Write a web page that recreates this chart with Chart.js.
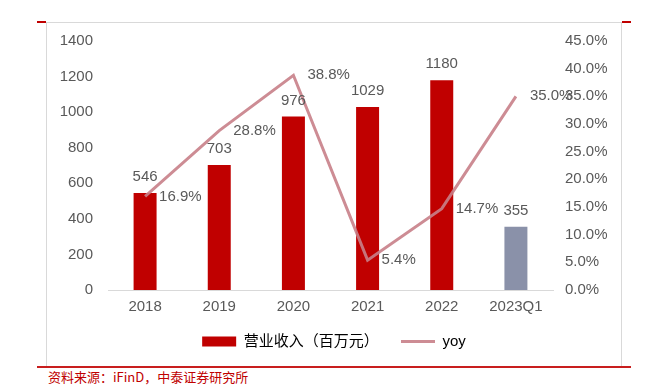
<!DOCTYPE html>
<html>
<head>
<meta charset="utf-8">
<script src="https://cdn.jsdelivr.net/npm/chart.js@4.4.0/dist/chart.umd.min.js"></script>
<style>
  body { margin: 0; background: #fff; }
  #wrap { position: relative; width: 645px; height: 387px; overflow: hidden; }
  .frame {
    position: absolute; left: 46px; top: 22px; width: 576px; height: 345px;
    box-sizing: border-box; border: 1px solid #D9D9D9; border-bottom: none;
  }
  .redtick { position: absolute; top: 21px; width: 9px; height: 2px; background: #C00000; }
  .redline { position: absolute; left: 37px; top: 366px; width: 594px; height: 2px; background: #C81E1E; }
  .source {
    position: absolute; left: 48px; top: 369px; font-size: 13px; line-height: 15px;
    color: #C00000; font-family: "Noto Sans CJK SC", sans-serif; font-weight: 400;
  }
  #chart { position: absolute; left: 47px; top: 23px; }
</style>
</head>
<body>
<div id="wrap">
  <div class="frame"></div>
  <div class="redtick" style="left:37px"></div>
  <div class="redtick" style="left:622px"></div>
  <canvas id="chart" width="574" height="343"></canvas>
  <div class="redline"></div>
  <div class="source">资料来源：iFinD，中泰证券研究所</div>
</div>
<script>
// data
const years = ['2018', '2019', '2020', '2021', '2022', '2023Q1'];
const revenue = [546, 703, 976, 1029, 1180, 355];   // 营业收入（百万元）
const yoy = [16.9, 28.8, 38.8, 5.4, 14.7, 35.0];    // %
const barColors = ['#C00000', '#C00000', '#C00000', '#C00000', '#C00000', '#8A91A9'];

const fontFamily = '"Liberation Sans", Arial, "Noto Sans CJK SC", sans-serif';
const textColor = '#595959';
const lineColor = 'rgba(200, 128, 136, 0.9)';

// value labels above the bars and to the right of the line points
const valueLabels = {
  id: 'valueLabels',
  afterDatasetsDraw(chart) {
    const ctx = chart.ctx;
    ctx.save();
    ctx.font = '15px ' + fontFamily;
    ctx.fillStyle = textColor;
    ctx.textBaseline = 'middle';
    chart.getDatasetMeta(0).data.forEach((bar, i) => {
      ctx.textAlign = 'center';
      ctx.fillText(String(revenue[i]), bar.x, bar.y - 16);
    });
    chart.getDatasetMeta(1).data.forEach((pt, i) => {
      ctx.textAlign = 'left';
      ctx.fillText(yoy[i].toFixed(1) + '%', pt.x + 14, pt.y);
    });
    ctx.restore();
  }
};

// fixed axis widths, and no extra top/bottom room for tick labels
const fitWidth = (w) => (s) => { s.width = w; s.paddingTop = 0; s.paddingBottom = 0; };

new Chart(document.getElementById('chart'), {
  type: 'bar',
  data: {
    labels: years,
    datasets: [
      {
        label: '营业收入（百万元）',
        data: revenue,
        backgroundColor: barColors,
        barPercentage: 0.31,
        categoryPercentage: 1,
        yAxisID: 'y',
        order: 2
      },
      {
        type: 'line',
        label: 'yoy',
        data: yoy,
        borderColor: lineColor,
        backgroundColor: lineColor,
        borderWidth: 3,
        pointRadius: 0,
        tension: 0,
        yAxisID: 'y1',
        order: 1
      }
    ]
  },
  options: {
    responsive: false,
    animation: false,
    devicePixelRatio: 1,
    layout: { padding: { top: 18, bottom: 7, left: 0, right: 0 } },
    plugins: {
      tooltip: { enabled: false },
      legend: {
        position: 'bottom',
        labels: {
          usePointStyle: true,
          pointStyleWidth: 34,
          boxHeight: 10,
          padding: 14,
          color: textColor,
          font: { family: fontFamily, size: 15 },
          generateLabels: () => [
            { text: '营业收入（百万元）  ', fillStyle: '#C00000', strokeStyle: '#C00000', lineWidth: 0, pointStyle: 'rect', datasetIndex: 0 },
            { text: 'yoy', fillStyle: lineColor, strokeStyle: lineColor, lineWidth: 3, pointStyle: 'line', datasetIndex: 1 }
          ]
        }
      }
    },
    scales: {
      x: {
        grid: { display: false, drawTicks: false },
        border: { display: true, color: '#D9D9D9', width: 1 },
        ticks: { color: textColor, padding: 8, font: { family: fontFamily, size: 15 } },
        afterFit: (s) => { s.height = 30; }
      },
      y: {
        position: 'left',
        min: 0, max: 1400,
        grid: { display: false, drawTicks: false },
        border: { display: false },
        ticks: {
          stepSize: 200, color: textColor, padding: 15, font: { family: fontFamily, size: 15 },
          callback: (v) => String(v)
        },
        afterFit: fitWidth(61)
      },
      y1: {
        position: 'right',
        min: 0, max: 45,
        grid: { display: false, drawTicks: false },
        border: { display: false },
        ticks: {
          stepSize: 5, color: textColor, padding: 12, font: { family: fontFamily, size: 15 },
          callback: (v) => Number(v).toFixed(1) + '%'
        },
        afterFit: fitWidth(68)
      }
    }
  },
  plugins: [valueLabels]
});
</script>
</body>
</html>
